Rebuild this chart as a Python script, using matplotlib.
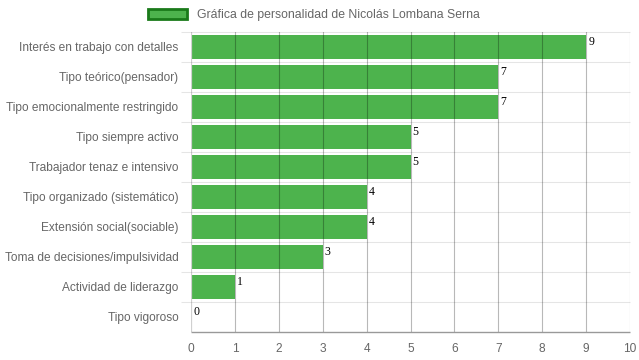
import matplotlib.pyplot as plt
import numpy as np

categories = ["Interés en trabajo con detalles", "Tipo teórico(pensador)",
              "Tipo emocionalmente restringido", "Tipo siempre activo",
              "Trabajador tenaz e intensivo", "Tipo organizado (sistemático)",
              "Extensión social(sociable)", "Toma de decisiones/impulsividad",
              "Actividad de liderazgo", "Tipo vigoroso"]
values = [9, 7, 7, 5, 5, 4, 4, 3, 1, 0]
series_name = "Gráfica de personalidad de Nicolás Lombana Serna"

plt.rcParams['font.family'] = ['Liberation Sans', 'DejaVu Sans']

fig = plt.figure(figsize=(6.39, 3.6), dpi=100)
ax = fig.add_axes([191 / 639, 28 / 360, 439 / 639, 300 / 360])

y = np.arange(len(categories))
ax.barh(y, values, height=0.78, color='#4db34d', zorder=1,
        label=series_name, edgecolor='none')

for yi, v in zip(y, values):
    ax.text(v + 0.05, yi - 0.38, str(v), family='Liberation Serif',
            fontsize=8.5, color='black', ha='left', va='top', zorder=3)

ax.set_xlim(0, 10)
ax.set_ylim(len(categories) - 0.5, -0.5)
ax.set_xticks(range(0, 11))
ax.set_yticks(y)
ax.set_yticklabels(categories)

# vertical grid
for xv in range(1, 11):
    ax.axvline(xv, color='black', alpha=0.28, lw=0.8, zorder=2)
ax.axvline(0, color='#d0d0d0', lw=1.6, zorder=2)
# horizontal grid at category boundaries, poking out left of the axis
ax.hlines(np.arange(-0.5, len(categories) - 0.5), -0.23, 10, color='black',
          alpha=0.1, lw=0.8, zorder=2, clip_on=False)
ax.hlines(len(categories) - 0.5, 0, 10, color='#999999', lw=1.0, zorder=2,
          clip_on=False)

for s in ax.spines.values():
    s.set_visible(False)
ax.tick_params(axis='both', length=0, colors='#666666', labelsize=8.6, pad=8)
ax.tick_params(axis='y', pad=9)

leg = ax.legend(handles=[plt.Rectangle((0, 0), 1, 1, facecolor='#4db34d',
                                       edgecolor='#1a7a1a', lw=2)],
                labels=[series_name], loc='lower center', frameon=False,
                fontsize=8.8, handlelength=3.2, handleheight=0.9,
                handletextpad=0.8, borderaxespad=0.3)
for t in leg.get_texts():
    t.set_color('#666666')
leg.set_bbox_to_anchor((314 / 639, 1 - 30 / 360), transform=fig.transFigure)

fig.savefig('out.png', dpi=100)
